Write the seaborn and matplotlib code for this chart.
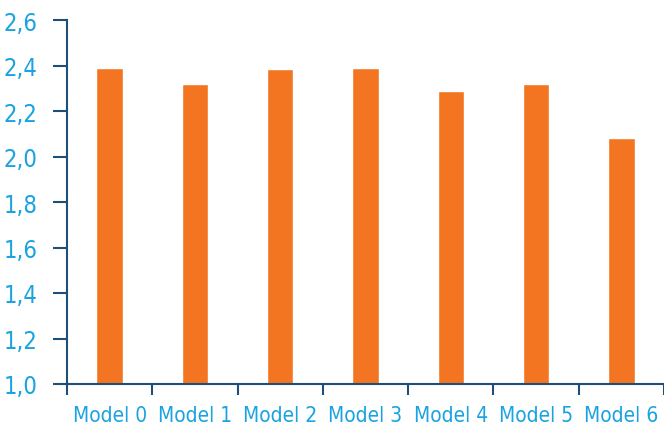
import numpy as np
import pandas as pd
import matplotlib
matplotlib.use('Agg')
import matplotlib.pyplot as plt
from matplotlib.ticker import FixedLocator, FuncFormatter
import seaborn as sns

# Données
models = ['Model 0', 'Model 1', 'Model 2', 'Model 3', 'Model 4', 'Model 5', 'Model 6']
values = [2.39, 2.32, 2.385, 2.39, 2.29, 2.32, 2.08]

sns.set_theme(style='white')
plt.rcParams['font.family'] = ['DejaVu Sans']
plt.rcParams['font.stretch'] = 'condensed'

spine_color = '#1f4e79'
label_color = '#1aa3e0'
bar_color = '#f37521'

df = pd.DataFrame({'model': models, 'value': values})

fig = plt.figure(figsize=(6.64, 4.27), dpi=100)
ax = fig.add_axes([67 / 664, 1 - 385 / 427, 1 - 67 / 664, (385 - 21) / 427])

sns.barplot(data=df, x='model', y='value', color=bar_color, width=0.31,
            saturation=1, ax=ax)

ax.set_ylim(1.0, 2.6)
ax.set_xlim(-0.5, 6.5)
ax.set_yticks(np.arange(1.0, 2.61, 0.2))
ax.yaxis.set_major_formatter(FuncFormatter(lambda v, _: f'{v:.1f}'.replace('.', ',')))
ax.set_xlabel('')
ax.set_ylabel('')

# ticks x entre les catégories
ax.xaxis.set_minor_locator(FixedLocator(np.arange(-0.5, 6.6, 1.0)))
ax.tick_params(axis='x', which='major', length=0, pad=15, labelsize=15, labelcolor=label_color)
ax.tick_params(axis='x', which='minor', length=8, width=1.5, color=spine_color, direction='out', bottom=True)
ax.tick_params(axis='y', which='major', length=10, width=1.5, color=spine_color, direction='out',
               left=True, pad=11, labelsize=17, labelcolor=label_color)

for side in ['top', 'right']:
    ax.spines[side].set_visible(False)
for side in ['left', 'bottom']:
    ax.spines[side].set_color(spine_color)
    ax.spines[side].set_linewidth(1.5)

plt.savefig('out.png', dpi=100)
plt.close()
